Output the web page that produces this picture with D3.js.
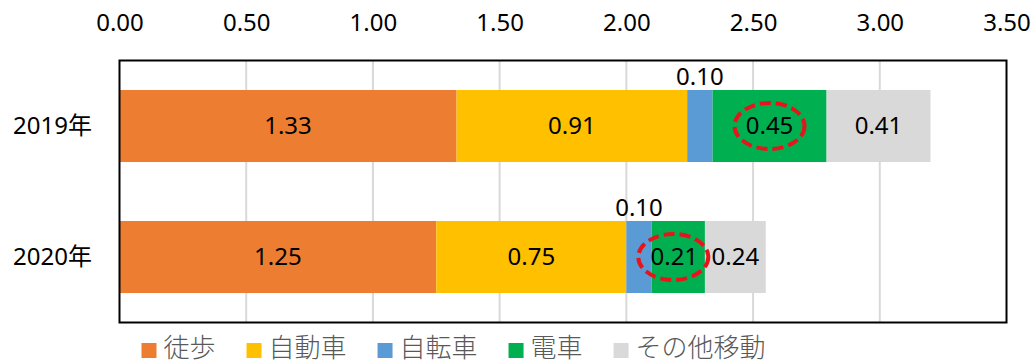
<!DOCTYPE html>
<html>
<head>
<meta charset="utf-8">
<script src="https://cdn.jsdelivr.net/npm/d3@7"></script>
<style>
  html, body { margin: 0; padding: 0; background: #fff; }
  svg { display: block; font-family: "Noto Sans", "Noto Sans CJK JP", sans-serif; }
</style>
</head>
<body>
<svg id="chart" width="1035" height="363"></svg>
<script>
// Years (rows) and travel modes (stacked segments)
const years = ["2019年", "2020年"];
const modes = ["徒歩", "自動車", "自転車", "電車", "その他移動"];
const walk    = [1.33, 1.25];
const car     = [0.91, 0.75];
const bicycle = [0.10, 0.10];
const train   = [0.45, 0.21];
const other   = [0.41, 0.24];
const xTicks  = [0, 0.5, 1.0, 1.5, 2.0, 2.5, 3.0, 3.5];
// Segments that get a dashed highlight ring
const highlighted = ["電車"];

const colors = ["#ED7D31", "#FFC000", "#5B9BD5", "#00B050", "#D9D9D9"];

const rows = years.map((y, i) => ({
  year: y,
  "徒歩": walk[i], "自動車": car[i], "自転車": bicycle[i], "電車": train[i], "その他移動": other[i]
}));

const svg = d3.select("#chart");
const plot = { left: 119.5, right: 1006.5, top: 60.5, bottom: 322.5 };

const x = d3.scaleLinear().domain([0, 3.5]).range([plot.left, plot.right]);
const y = d3.scaleBand().domain(years).range([plot.top, plot.bottom])
  .paddingInner(0.45).paddingOuter(0.225);
const color = d3.scaleOrdinal().domain(modes).range(colors);

// Vertical gridlines
svg.append("g").selectAll("line")
  .data(xTicks.filter(t => t > 0 && t < 3.5))
  .join("line")
  .attr("x1", d => x(d)).attr("x2", d => x(d))
  .attr("y1", plot.top).attr("y2", plot.bottom)
  .attr("stroke", "#D9D9D9").attr("stroke-width", 2);

// Top axis labels
const axis = d3.axisTop(x).tickValues(xTicks).tickFormat(d3.format(".2f")).tickSize(0).tickPadding(0);
const axisG = svg.append("g").attr("transform", `translate(0, 23)`).call(axis);
axisG.select(".domain").remove();
axisG.selectAll("text")
  .attr("font-size", 24).attr("fill", "#000")
  .attr("dy", "0.35em")
  .attr("font-family", "'Noto Sans', sans-serif");

// Stacked bars
const stack = d3.stack().keys(modes)(rows);
const layers = svg.append("g").selectAll("g").data(stack).join("g")
  .attr("fill", d => color(d.key));
layers.selectAll("rect").data(d => d.map(s => ({ s, key: d.key })))
  .join("rect")
  .attr("x", d => x(d.s[0]))
  .attr("y", d => y(d.s.data.year))
  .attr("width", d => x(d.s[1]) - x(d.s[0]))
  .attr("height", y.bandwidth());

// Value labels
const labels = [];
stack.forEach(layer => {
  layer.forEach(s => {
    const v = s[1] - s[0];
    const small = layer.key === "自転車";
    labels.push({
      key: layer.key,
      text: d3.format(".2f")(v),
      cx: (x(s[0]) + x(s[1])) / 2,
      cy: small ? y(s.data.year) - 13 : y(s.data.year) + y.bandwidth() / 2
    });
  });
});

// Dashed highlight ellipses
svg.append("g").selectAll("ellipse")
  .data(labels.filter(d => highlighted.includes(d.key)))
  .join("ellipse")
  .attr("cx", d => d.cx - (d.text === "0.21" ? 5 : 0))
  .attr("cy", d => d.cy)
  .attr("rx", 35).attr("ry", 23)
  .attr("fill", "none")
  .attr("stroke", "#E8141B").attr("stroke-width", 4)
  .attr("stroke-dasharray", "11 5");

svg.append("g").selectAll("text").data(labels).join("text")
  .attr("x", d => d.cx - (d.text === "0.21" && d.key === "電車" ? 4 : 0))
  .attr("y", d => d.cy)
  .attr("dy", "0.35em")
  .attr("text-anchor", "middle")
  .attr("font-size", 24)
  .attr("fill", "#000")
  .text(d => d.text);

// Category labels
svg.append("g").selectAll("text").data(years).join("text")
  .attr("x", 92)
  .attr("y", d => y(d) + y.bandwidth() / 2)
  .attr("dy", "0.35em")
  .attr("text-anchor", "end")
  .attr("font-size", 24)
  .attr("fill", "#000")
  .text(d => d);

// Plot frame
svg.append("rect")
  .attr("x", plot.left).attr("y", plot.top)
  .attr("width", plot.right - plot.left).attr("height", plot.bottom - plot.top)
  .attr("fill", "none").attr("stroke", "#000").attr("stroke-width", 2);

// Legend
const legend = svg.append("g");
let lx = 141.5;
modes.forEach(m => {
  legend.append("rect")
    .attr("x", lx).attr("y", 343).attr("width", 15).attr("height", 15)
    .attr("fill", color(m));
  const t = legend.append("text")
    .attr("x", lx + 22).attr("y", 348)
    .attr("dy", "0.35em")
    .attr("font-size", 26)
    .attr("font-weight", 300)
    .attr("font-family", "'Noto Sans CJK JP', sans-serif")
    .attr("fill", "#595959")
    .text(m);
  lx += 22 + t.node().getComputedTextLength() + 31;
});
</script>
</body>
</html>
